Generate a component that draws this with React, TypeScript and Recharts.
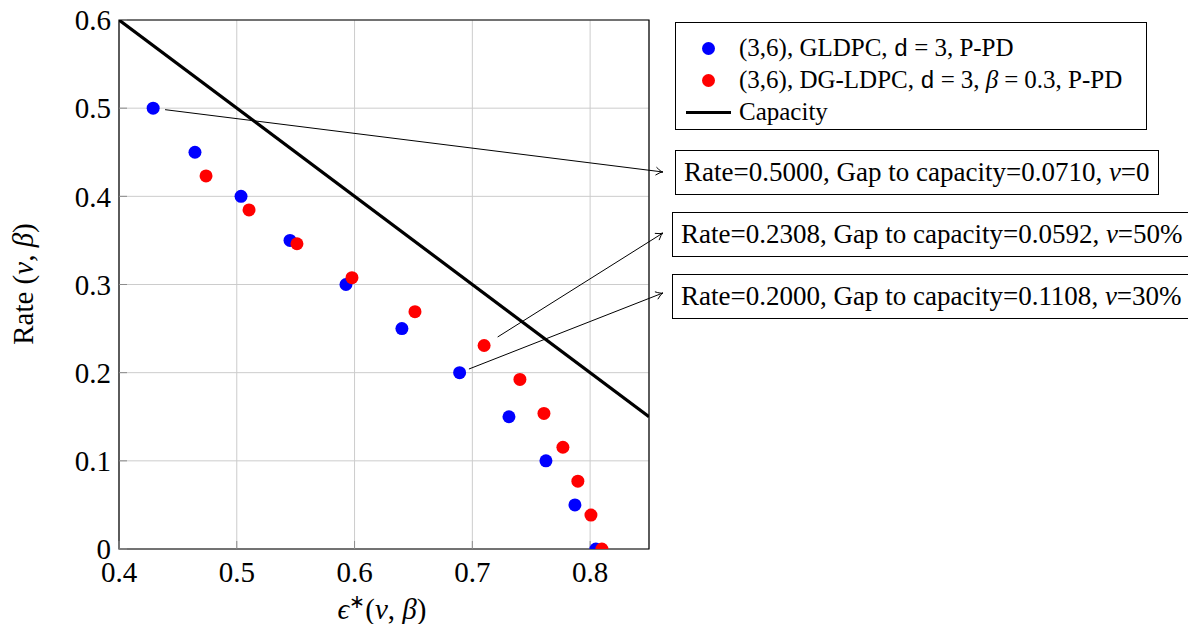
import React from 'react';
import { ScatterChart, Scatter, XAxis, YAxis, CartesianGrid, ReferenceLine, ReferenceArea } from 'recharts';

// epsilon* thresholds and rates
const gldpcEps = [0.429, 0.4645, 0.5036, 0.5452, 0.5927, 0.6402, 0.6892, 0.7311, 0.7625, 0.7871, 0.8049];
const gldpcRate = [0.5, 0.45, 0.4, 0.35, 0.3, 0.25, 0.2, 0.15, 0.1, 0.05, 0];
const dgEps = [0.4739, 0.5104, 0.5511, 0.5978, 0.6513, 0.71, 0.7404, 0.7608, 0.7769, 0.7896, 0.8007, 0.81];
const dgRate = [0.4231, 0.3846, 0.3462, 0.3077, 0.2692, 0.2308, 0.1923, 0.1538, 0.1154, 0.0769, 0.0385, 0];
const capEps = [0.4, 0.85];
const capRate = [0.6, 0.15];

const xTicks = [0.4, 0.5, 0.6, 0.7, 0.8];
const yTicks = [0, 0.1, 0.2, 0.3, 0.4, 0.5, 0.6];

// pin annotations: point it starts from, and where the arrow lands next to its box
const noteRate = ['0.5000', '0.2308', '0.2000'];
const noteGap = ['0.0710', '0.0592', '0.1108'];
const noteNu = ['0', '50%', '30%'];
const noteFromEps = [0.429, 0.71, 0.6892];
const noteFromRate = [0.5, 0.2308, 0.2];
const noteToEps = [0.8618, 0.8618, 0.8618];
const noteToRate = [0.4276, 0.3584, 0.2904];

const gldpc = gldpcEps.map((x, i) => ({ x, y: gldpcRate[i] }));
const dg = dgEps.map((x, i) => ({ x, y: dgRate[i] }));
const capacity = capEps.map((x, i) => ({ x, y: capRate[i] }));

const FONT = '"Liberation Serif", "Times New Roman", serif';
const MONO = '"Liberation Mono", "Courier New", monospace';
const TICK_GRAY = '#8c8c8c';

const dot = (color: string) => (p: any) => <circle cx={p.cx} cy={p.cy} r={6.5} fill={color} />;

const arrowShape = (gap: number) => (p: any) => {
  const { x1, y1, x2, y2 } = p;
  const dx = x2 - x1;
  const dy = y2 - y1;
  const len = Math.hypot(dx, dy) || 1;
  const ux = dx / len;
  const uy = dy / len;
  const sx = x1 + ux * gap;
  const sy = y1 + uy * gap;
  const bx = x2 - ux * 7;
  const by = y2 - uy * 7;
  const nx = -uy * 4;
  const ny = ux * 4;
  return (
    <g>
      <line x1={sx} y1={sy} x2={x2} y2={y2} stroke="#000" strokeWidth={1} />
      <path
        d={`M${bx + nx},${by + ny} Q${x2 - ux * 2},${y2 - uy * 2} ${x2},${y2} Q${x2 - ux * 2},${y2 - uy * 2} ${bx - nx},${by - ny}`}
        fill="none"
        stroke="#000"
        strokeWidth={1}
      />
    </g>
  );
};

const XTick = (p: any) => (
  <text x={p.x} y={p.y} dy="0.71em" textAnchor="middle" fontFamily={FONT} fontSize={29} fill="#000">
    {p.payload.value.toFixed(1)}
  </text>
);

const YTick = (p: any) => (
  <text x={p.x} y={p.y} dy="0.355em" textAnchor="end" fontFamily={FONT} fontSize={29} fill="#000">
    {p.payload.value === 0 ? '0' : p.payload.value.toFixed(1)}
  </text>
);

const YLabel = () => (
  <text x={26} y={284} transform="rotate(-90 26 284)" textAnchor="middle" dominantBaseline="middle" fontFamily={FONT} fontSize={29} fill="#000">
    Rate (<tspan fontStyle="italic">ν</tspan>, <tspan fontStyle="italic">β</tspan>)
  </text>
);

const XLabel = () => (
  <text x={382} y={619} textAnchor="middle" fontFamily={FONT} fontSize={29} fill="#000">
    <tspan fontStyle="italic">ϵ</tspan>
    <tspan fontSize={19} dy={-11}>∗</tspan>
    <tspan dy={11}>(</tspan>
    <tspan fontStyle="italic">ν</tspan>, <tspan fontStyle="italic">β</tspan>)
  </text>
);

const boxStyle: React.CSSProperties = {
  position: 'absolute',
  border: '1px solid #000',
  background: '#fff',
  fontFamily: FONT,
  fontSize: 27,
  lineHeight: '43px',
  padding: '0 8px',
  whiteSpace: 'nowrap',
  color: '#000',
};

const noteTop = [150, 212, 274];
const noteLeft = [675, 672, 672];

const legendRow: React.CSSProperties = { display: 'flex', alignItems: 'center', height: 32, whiteSpace: 'nowrap' };
const eq: React.CSSProperties = { margin: '0 6px' };

export default function App() {
  return (
    <div style={{ position: 'relative', width: 1196, height: 632, margin: -8, background: '#fff', overflow: 'hidden', fontFamily: FONT }}>
      <ScatterChart width={1196} height={632} margin={{ top: 20, right: 547, bottom: 0, left: 59 }}>
        <CartesianGrid stroke="#cccccc" strokeWidth={1} />
        <XAxis
          type="number"
          dataKey="x"
          domain={[0.4, 0.85]}
          ticks={xTicks}
          allowDataOverflow
          height={83}
          axisLine={false}
          tickSize={-8}
          tickMargin={20}
          tickLine={{ stroke: TICK_GRAY }}
          tick={<XTick />}
          label={<XLabel />}
        />
        <XAxis
          xAxisId="top"
          orientation="top"
          type="number"
          dataKey="x"
          domain={[0.4, 0.85]}
          ticks={xTicks}
          allowDataOverflow
          height={0}
          axisLine={false}
          tickSize={-8}
          tickLine={{ stroke: TICK_GRAY }}
          tick={false}
        />
        <YAxis
          type="number"
          dataKey="y"
          domain={[0, 0.6]}
          ticks={yTicks}
          allowDataOverflow
          width={60}
          axisLine={false}
          tickSize={-8}
          tickMargin={16}
          tickLine={{ stroke: TICK_GRAY }}
          tick={<YTick />}
          label={<YLabel />}
        />
        <YAxis
          yAxisId="right"
          orientation="right"
          type="number"
          dataKey="y"
          domain={[0, 0.6]}
          ticks={yTicks}
          allowDataOverflow
          width={0}
          axisLine={false}
          tickSize={-8}
          tickLine={{ stroke: TICK_GRAY }}
          tick={false}
        />
        <ReferenceArea x1={0.4} x2={0.85} y1={0} y2={0.6} fill="none" stroke="#000" strokeWidth={1.2} fillOpacity={0} />
        <Scatter data={gldpc} fill="#0000ff" shape={dot('#0000ff')} isAnimationActive={false} />
        <Scatter data={dg} fill="#ff0000" shape={dot('#ff0000')} isAnimationActive={false} />
        <Scatter
          data={capacity}
          line={{ stroke: '#000', strokeWidth: 3.2 }}
          shape={() => <g />}
          isAnimationActive={false}
        />
        {noteRate.map((_, i) => (
          <ReferenceLine
            key={i}
            ifOverflow="visible"
            segment={[
              { x: noteFromEps[i], y: noteFromRate[i] },
              { x: noteToEps[i], y: noteToRate[i] },
            ]}
            shape={arrowShape([12, 16, 10][i])}
          />
        ))}
      </ScatterChart>

      <div style={{ position: 'absolute', left: 675, top: 22, width: 472, height: 108, border: '1px solid #000', background: '#fff', fontSize: 25, color: '#000', padding: '9px 0 0 0', boxSizing: 'border-box' }}>
        <div style={legendRow}>
          <span style={{ display: 'inline-block', width: 13, height: 13, borderRadius: '50%', background: '#0000ff', marginLeft: 26, marginRight: 24 }} />
          <span>
            (3,6), GLDPC, <span style={{ fontFamily: MONO, fontSize: 24 }}>d</span>
            <span style={eq}>=</span>3, P-PD
          </span>
        </div>
        <div style={legendRow}>
          <span style={{ display: 'inline-block', width: 13, height: 13, borderRadius: '50%', background: '#ff0000', marginLeft: 26, marginRight: 24 }} />
          <span>
            (3,6), DG-LDPC, <span style={{ fontFamily: MONO, fontSize: 24 }}>d</span>
            <span style={eq}>=</span>3, <i>β</i>
            <span style={eq}>=</span>0.3, P-PD
          </span>
        </div>
        <div style={legendRow}>
          <span style={{ display: 'inline-block', width: 45, height: 3, background: '#000', marginLeft: 10, marginRight: 8 }} />
          <span>Capacity</span>
        </div>
      </div>

      {noteRate.map((r, i) => (
        <div key={i} style={{ ...boxStyle, left: noteLeft[i], top: noteTop[i] }}>
          Rate={r}, Gap to capacity={noteGap[i]}, <i>ν</i>={noteNu[i]}
        </div>
      ))}
    </div>
  );
}
